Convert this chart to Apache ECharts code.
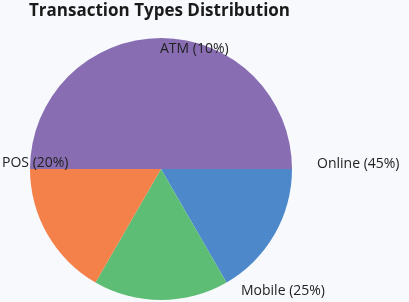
<!DOCTYPE html>
<html>
<head>
<meta charset="utf-8">
<script src="https://cdn.jsdelivr.net/npm/echarts@6/dist/echarts.min.js"></script>
<style>
html,body{margin:0;padding:0;background:#f7f9fc;}
#chart{width:409px;height:302px;}
</style>
</head>
<body>
<div id="chart"></div>
<script>
// Data (slice shares as drawn; label text as printed)
var categories = ['Online (45%)', 'Mobile (25%)', 'POS (20%)', 'ATM (10%)'];
var values = [1, 1, 1, 3];
var colors = ['#4d88cb', '#5dbd74', '#f4804a', '#886db3'];

// Label anchors (presentation only)
var labelAnchors = [
  {x: 317, y: 164},
  {x: 241, y: 291},
  {x: 2, y: 163},
  {x: 160, y: 49}
];

var chart = echarts.init(document.getElementById('chart'), null, {renderer: 'canvas'});
chart.setOption({
  backgroundColor: '#f7f9fc',
  animation: false,
  title: {
    text: 'Transaction Types Distribution',
    left: 29,
    top: 3,
    padding: 0,
    textStyle: {fontFamily: 'Open Sans', fontWeight: 'bold', fontSize: 17, color: '#1a1a1a'}
  },
  series: [{
    type: 'pie',
    center: [161, 169],
    radius: 131,
    startAngle: 0,
    clockwise: true,
    avoidLabelOverlap: false,
    label: {
      show: true,
      position: 'inside',
      formatter: '{b}',
      fontFamily: 'Open Sans',
      fontSize: 14,
      color: '#222',
      overflow: 'none'
    },
    labelLine: {show: false},
    labelLayout: function (p) {
      var a = labelAnchors[p.dataIndex];
      return {x: a.x, y: a.y, align: 'left', verticalAlign: 'middle', hideOverlap: false};
    },
    itemStyle: {borderWidth: 0},
    emphasis: {disabled: true},
    data: categories.map(function (c, i) {
      return {name: c, value: values[i], itemStyle: {color: colors[i]}};
    })
  }]
});
</script>
</body>
</html>
